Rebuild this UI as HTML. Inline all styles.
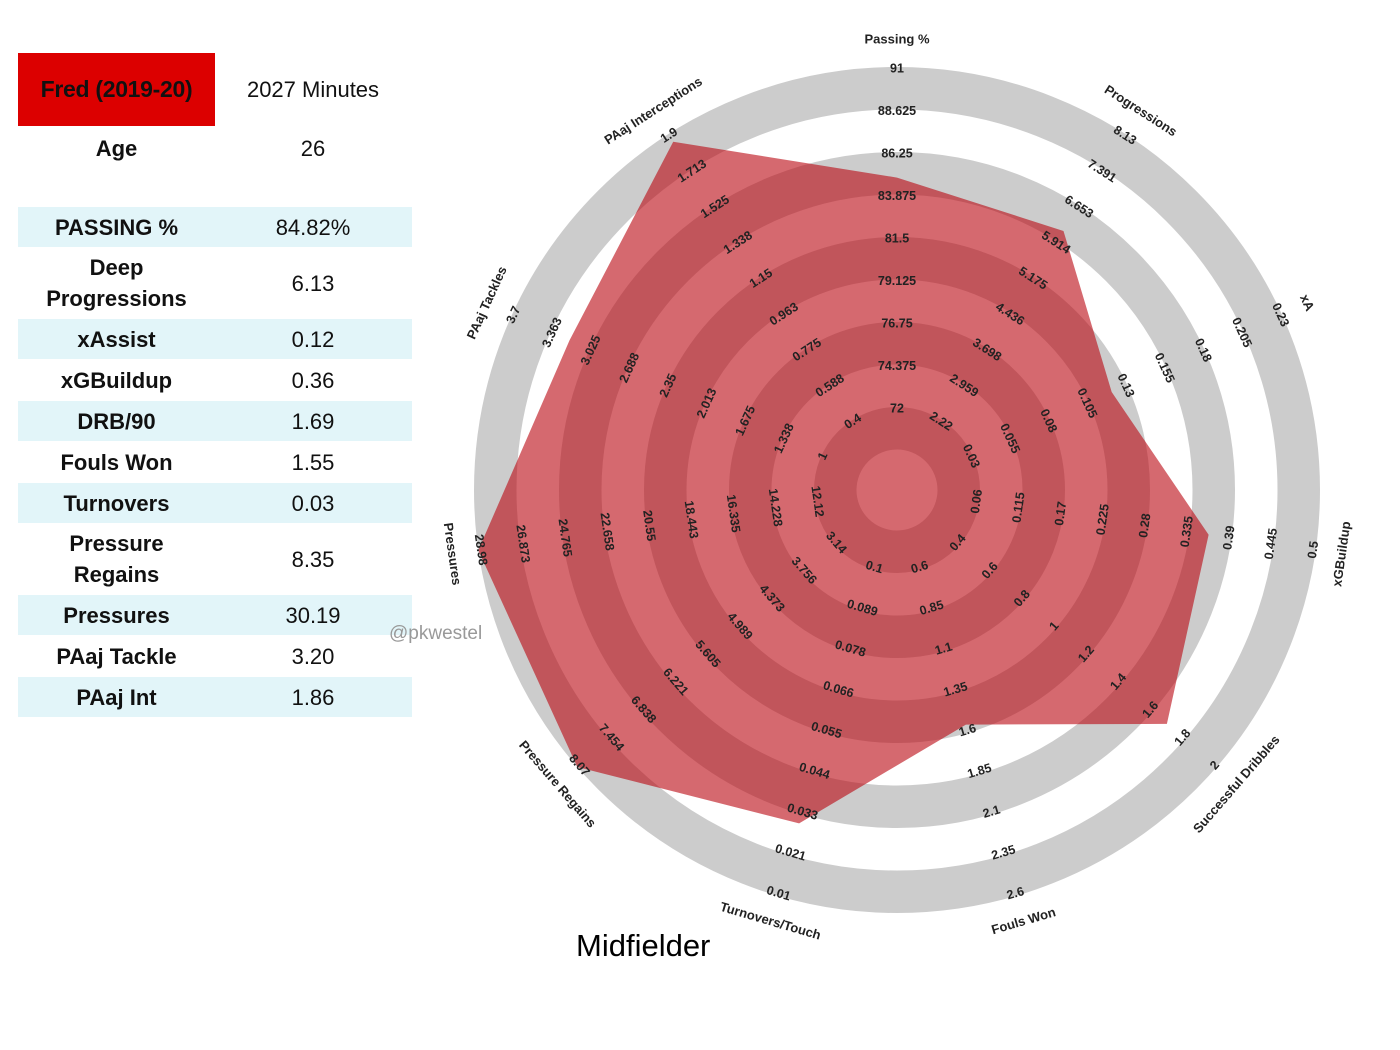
<!DOCTYPE html>
<html><head><meta charset="utf-8">
<style>
body{margin:0;background:#fff;width:1400px;height:1050px;overflow:hidden;font-family:"Liberation Sans",sans-serif;}
#wrap{position:relative;width:1400px;height:1050px;}
.cell{position:absolute;display:flex;align-items:center;justify-content:center;text-align:center;color:#111;font-size:22px;line-height:31px;}
.b{font-weight:bold;}
.row{position:absolute;left:18px;width:394px;background:#e2f5f9;}
svg{position:absolute;left:0;top:0;}
</style></head><body>
<div id="wrap">
<div class="cell b" style="left:18px;top:53px;width:197px;height:73px;background:#dc0000;font-size:23px;letter-spacing:-0.3px;">Fred (2019-20)</div>
<div class="cell" style="left:215px;top:53px;width:196px;height:73px;">2027 Minutes</div>
<div class="cell b" style="left:18px;top:130px;width:197px;height:36px;">Age</div>
<div class="cell" style="left:215px;top:130px;width:196px;height:36px;">26</div>
<div id="table"></div>
<svg id="chart" width="1400" height="1050"></svg>
<div style="position:absolute;left:389px;top:623px;font-size:19px;color:#999;">@pkwestel</div>
<div style="position:absolute;left:576px;top:928px;font-size:31px;color:#000;">Midfielder</div>
</div>
<script>
// table data
const statLabels=["PASSING %","Deep<br>Progressions","xAssist","xGBuildup","DRB/90","Fouls Won","Turnovers","Pressure<br>Regains","Pressures","PAaj Tackle","PAaj Int"];
const statValues=["84.82%","6.13","0.12","0.36","1.69","1.55","0.03","8.35","30.19","3.20","1.86"];
const statTall=[false,true,false,false,false,false,false,true,false,false,false];

// radar data
const axisNames=["Passing %","Progressions","xA","xGBuildup","Successful Dribbles","Fouls Won","Turnovers/Touch","Pressure Regains","Pressures","PAaj Tackles","PAaj Interceptions"];
const ticksPassing=["72","74.375","76.75","79.125","81.5","83.875","86.25","88.625","91"];
const ticksProg=["2.22","2.959","3.698","4.436","5.175","5.914","6.653","7.391","8.13"];
const ticksXA=["0.03","0.055","0.08","0.105","0.13","0.155","0.18","0.205","0.23"];
const ticksXGB=["0.06","0.115","0.17","0.225","0.28","0.335","0.39","0.445","0.5"];
const ticksDrb=["0.4","0.6","0.8","1","1.2","1.4","1.6","1.8","2"];
const ticksFouls=["0.6","0.85","1.1","1.35","1.6","1.85","2.1","2.35","2.6"];
const ticksTurn=["0.1","0.089","0.078","0.066","0.055","0.044","0.033","0.021","0.01"];
const ticksRegain=["3.14","3.756","4.373","4.989","5.605","6.221","6.838","7.454","8.07"];
const ticksPress=["12.12","14.228","16.335","18.443","20.55","22.658","24.765","26.873","28.98"];
const ticksTackle=["1","1.338","1.675","2.013","2.35","2.688","3.025","3.363","3.7"];
const ticksInt=["0.4","0.588","0.775","0.963","1.15","1.338","1.525","1.713","1.9"];
const playerValues=[84.82,6.13,0.12,0.36,1.69,1.55,0.03,8.35,30.19,3.20,1.86];

const allTicks=[ticksPassing,ticksProg,ticksXA,ticksXGB,ticksDrb,ticksFouls,ticksTurn,ticksRegain,ticksPress,ticksTackle,ticksInt];

// build table
const table=document.getElementById('table');
let y=207;
statLabels.forEach((lab,i)=>{
  const h=statTall[i]?70:40;
  const shaded=[0,2,4,6,8,10].includes(i);
  if(shaded){
    const r=document.createElement('div');
    r.className='row';
    r.style.top=y+'px';r.style.height=h+'px';
    
    
    table.appendChild(r);
  }
  const l=document.createElement('div');
  l.className='cell b';
  l.style.cssText='left:18px;width:197px;top:'+y+'px;height:'+h+'px;';
  l.innerHTML=lab;
  
  
  table.appendChild(l);
  const v=document.createElement('div');
  v.className='cell';
  v.style.cssText='left:215px;width:196px;top:'+y+'px;height:'+h+'px;';
  v.textContent=statValues[i];
  
  
  table.appendChild(v);
  y+=h+1;
});

// radar
const NS='http://www.w3.org/2000/svg';
const svg=document.getElementById('chart');
const cx=897,cy=490,r0=83,r1=423,band=42.5;
const N=axisNames.length;
function ang(i){return i*2*Math.PI/N;}
function pt(i,r){const a=ang(i);return [cx+r*Math.sin(a),cy-r*Math.cos(a)];}
function rScale(i,v){const t=allTicks[i];const lo=parseFloat(t[0]),hi=parseFloat(t[t.length-1]);let f=(v-lo)/(hi-lo);f=Math.max(0,Math.min(1,f));return r0+f*(r1-r0);}
function mk(tag,attrs){const e=document.createElementNS(NS,tag);for(const k in attrs)e.setAttribute(k,attrs[k]);svg.appendChild(e);return e;}
for(let k=0;k<5;k++){
  const outer=r1-k*2*band, inner=outer-band;
  const c=mk('circle',{cx:cx,cy:cy,r:(outer+inner)/2,fill:'none',stroke:'#cccccc','stroke-width':band});
  
  
}
const pts=playerValues.map((v,i)=>pt(i,rScale(i,v)).join(',')).join(' ');
const poly=mk('polygon',{points:pts,fill:'rgba(185,5,15,0.6)'});


function rot(i){let d=ang(i)*180/Math.PI;if(d>90&&d<270)d-=180;return d;}
allTicks.forEach((ticks,i)=>{
  ticks.forEach((lab,k)=>{
    const [x,yy]=pt(i,r0+k*band-2);
    const t=mk('text',{x:x,y:yy,'font-size':'12.5','font-weight':'bold',fill:'#222','text-anchor':'middle','dominant-baseline':'middle',transform:'rotate('+rot(i)+' '+x+' '+yy+')'});
    t.textContent=lab;
    
    
  });
  const [x,yy]=pt(i,450);
  const t=mk('text',{x:x,y:yy,'font-size':'13','font-weight':'bold',fill:'#222','text-anchor':'middle','dominant-baseline':'middle',transform:'rotate('+rot(i)+' '+x+' '+yy+')'});
  t.textContent=axisNames[i];
  
  
});
</script>
</body></html>
